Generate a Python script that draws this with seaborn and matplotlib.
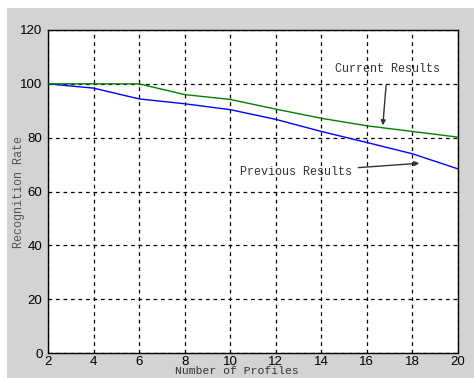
import matplotlib
matplotlib.use("Agg")
import matplotlib.pyplot as plt
import seaborn as sns
import pandas as pd
from matplotlib.patches import Rectangle

profiles = [2, 4, 6, 8, 10, 12, 14, 16, 18, 20]
previous_results = [100, 98.4, 94.4, 92.6, 90.4, 86.8, 82.3, 78.2, 74.0, 68.4]
current_results = [100, 100, 100, 96.0, 94.2, 90.6, 87.2, 84.4, 82.3, 80.2]
x_ticks = [2, 4, 6, 8, 10, 12, 14, 16, 18, 20]
y_ticks = [0, 20, 40, 60, 80, 100, 120]

df = pd.DataFrame({
    "profiles": profiles + profiles,
    "rate": previous_results + current_results,
    "series": ["Previous Results"] * len(profiles) + ["Current Results"] * len(profiles),
})

sns.set_style("white")
plt.rcParams["font.family"] = ["DejaVu Sans"]

fig = plt.figure(figsize=(4.74, 3.78), dpi=100)
fig.patch.set_facecolor("white")
fig.add_artist(Rectangle((7 / 474, 0), 1 - 7 / 474, 1 - 8 / 378,
                         transform=fig.transFigure, facecolor="#d3d3d3",
                         edgecolor="none", zorder=-10))

ax = fig.add_axes([48 / 474, 1 - 353 / 378, 410 / 474, 323 / 378])
ax.set_facecolor("white")

sns.lineplot(data=df, x="profiles", y="rate", hue="series",
             palette={"Previous Results": "#0000ff", "Current Results": "#008000"},
             linewidth=1.0, legend=False, ax=ax, zorder=3)

ax.set_xlim(2, 20)
ax.set_ylim(0, 120)
ax.set_xticks(x_ticks)
ax.set_yticks(y_ticks)
ax.tick_params(direction="in", length=0, labelsize=9.5, colors="black")
ax.tick_params(axis="x", pad=2)
ax.tick_params(axis="y", pad=4)
for lbl in ax.get_xticklabels() + ax.get_yticklabels():
    lbl.set_family("Liberation Sans")
ax.grid(True, color="black", linestyle=(0, (3, 3)), linewidth=0.9)
for s in ax.spines.values():
    s.set_color("black")
    s.set_linewidth(1.0)

mono = "Liberation Mono"
ax.set_xlabel("Number of Profiles", family=mono, fontsize=8.2, color="#333333", va="top")
ax.xaxis.set_label_coords((237 - 48) / 410, (353 - 366.5) / 323)
ax.set_ylabel("Recognition Rate", family=mono, fontsize=8.5, color="#555555", va="center")
ax.yaxis.set_label_coords((19 - 48) / 410, 0.5)

ax.annotate("Current Results", xy=(16.7, 84.6), xytext=(16.9, 105.5),
            ha="center", va="center", family=mono, fontsize=8.5, color="#333333",
            arrowprops=dict(arrowstyle="-|>", color="#333333", lw=1.0,
                            mutation_scale=7, shrinkA=5, shrinkB=0))
ax.annotate("Previous Results", xy=(18.3, 70.5), xytext=(12.9, 67.2),
            ha="center", va="center", family=mono, fontsize=8.5, color="#333333",
            arrowprops=dict(arrowstyle="-|>", color="#333333", lw=1.0,
                            mutation_scale=7, shrinkA=2, shrinkB=0))

fig.savefig("out.png", dpi=100, facecolor=fig.get_facecolor())
